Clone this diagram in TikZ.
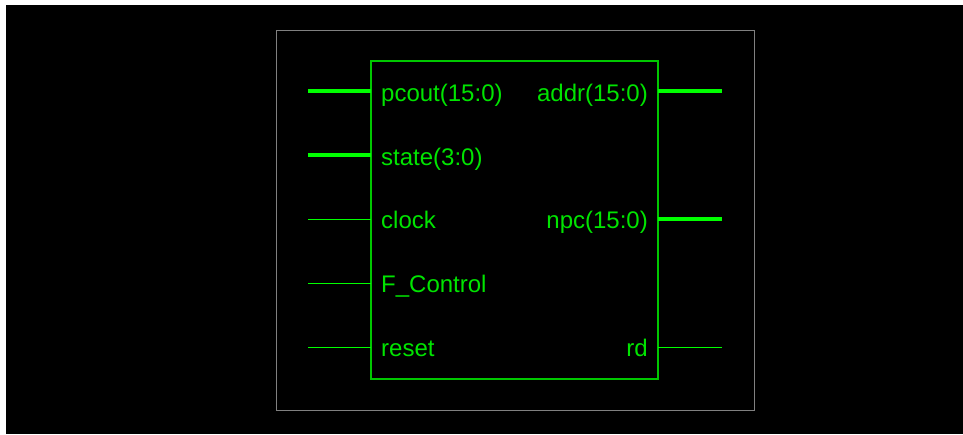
\documentclass[tikz,border=0pt]{standalone}
\usepackage{fontspec}
\setmainfont{Liberation Sans}
\definecolor{wire}{HTML}{00FF00}
\definecolor{pintext}{HTML}{00E400}
\definecolor{boxline}{HTML}{00C800}
\definecolor{frame}{HTML}{808080}
\begin{document}
\begin{tikzpicture}[x=1pt,y=-1pt,
  bus/.style={draw=wire,line width=4pt},
  sig/.style={draw=wire,line width=1.2pt},
  lbl/.style={text=pintext,font=\fontsize{24}{28}\selectfont,inner sep=0pt},
  inlbl/.style={lbl,anchor=base west},
  outlbl/.style={lbl,anchor=base east}]
  % canvas
  \fill[white] (0,0) rectangle (963,434);
  \useasboundingbox (0,0) rectangle (963,434);
  \fill[black] (6,5) rectangle (963,434);
  % outer frame and component body
  \draw[frame,line width=1pt] (276.5,30.5) rectangle (754.5,410.5);
  \draw[boxline,line width=1.3pt] (371,61) rectangle (658,379);
  % pin end points (single-width pins sit on pixel centres)
  \foreach \n/\y in {p1/91,p2/155,p3/219.5,p4/283.5,p5/347.5}{
    \coordinate (\n o) at (308,\y);
    \coordinate (\n i) at (371,\y);
  }
  \foreach \n/\y in {q1/91,q3/219,q5/347.5}{
    \coordinate (\n i) at (658,\y);
    \coordinate (\n o) at (722,\y);
  }
  % input pins
  \draw[bus] (p1o) -- (p1i);
  \draw[bus] (p2o) -- (p2i);
  \draw[sig] (p3o) -- (p3i);
  \draw[sig] (p4o) -- (p4i);
  \draw[sig] (p5o) -- (p5i);
  % output pins
  \draw[bus] (q1i) -- (q1o);
  \draw[bus] (q3i) -- (q3o);
  \draw[sig] (q5i) -- (q5o);
  % pin labels (baselines sit a little below each pin)
  \node[inlbl] (l1) at (381,101) {pcout(15:0)};
  \node[inlbl] (l2) at (381,165) {state(3:0)};
  \node[inlbl] (l3) at (381,228) {clock};
  \node[inlbl] (l4) at (381,292) {F\_Control};
  \node[inlbl] (l5) at (381,356) {reset};
  \node[outlbl] (r1) at (648,101) {addr(15:0)};
  \node[outlbl] (r3) at (648,228) {npc(15:0)};
  \node[outlbl] (r5) at (648,356) {rd};
\end{tikzpicture}
\end{document}
